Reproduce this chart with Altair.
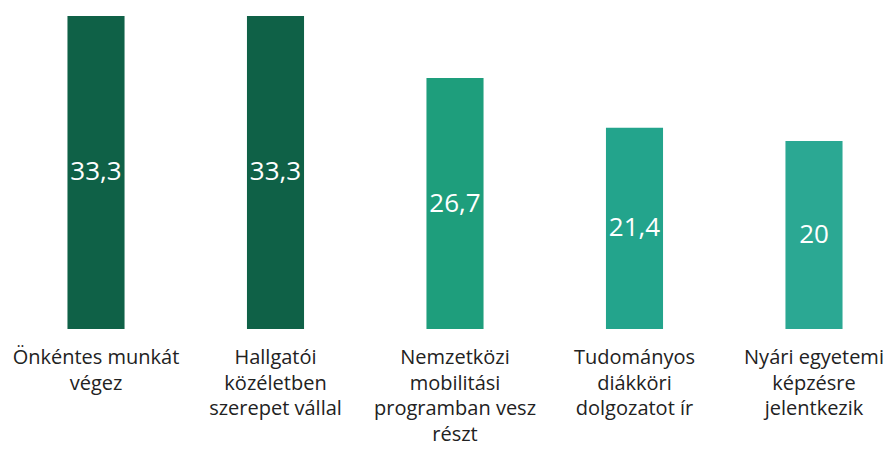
import altair as alt
import pandas as pd

categories = [
    "Önkéntes munkát|végez",
    "Hallgatói|közéletben|szerepet vállal",
    "Nemzetközi|mobilitási|programban vesz|részt",
    "Tudományos|diákköri|dolgozatot ír",
    "Nyári egyetemi|képzésre|jelentkezik",
]
values = [33.3, 33.3, 26.7, 21.4, 20]
value_labels = ["33,3", "33,3", "26,7", "21,4", "20"]
colors = ["#0f6147", "#0f6147", "#1e9e7c", "#23a48c", "#2ba893"]

df = pd.DataFrame({
    "cat": categories,
    "value": values,
    "label": value_labels,
    "half": [v / 2 for v in values],
    "color": colors,
})

x = alt.X("cat:N", sort=categories, axis=None,
          scale=alt.Scale(range=[-3, 897], paddingInner=0.682, paddingOuter=0.348))
y_scale = alt.Scale(domain=[0, 34.15], range=[321, 0])

base = alt.Chart(df)

bars = base.mark_bar().encode(
    x=x,
    y=alt.Y("value:Q", scale=y_scale, axis=None),
    color=alt.Color("color:N", scale=None),
)

vals = base.mark_text(color="white", font="Open Sans", fontSize=26,
                      baseline="middle", align="center").encode(
    x=x,
    y=alt.Y("half:Q", scale=y_scale),
    text="label:N",
)

cats = base.mark_text(color="#222222", font="Open Sans", fontSize=20,
                      baseline="alphabetic", align="center",
                      lineBreak="|", lineHeight=25.5).encode(
    x=x,
    y=alt.value(356),
    text="cat:N",
)

chart = alt.layer(bars, vals, cats).properties(
    width=877, height=440, padding=0,
    autosize=alt.AutoSizeParams(type="none"),
).configure_view(stroke=None)

chart.save("out.html", embed_options={"renderer": "svg", "actions": False})
